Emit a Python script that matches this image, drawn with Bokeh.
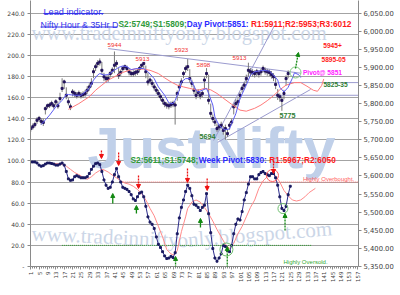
import math
from bokeh.plotting import figure
from bokeh.models import Range1d, LinearAxis, FixedTicker, NumeralTickFormatter, Arrow, NormalHead
from bokeh.core.properties import value
from bokeh.embed import file_html
from bokeh.resources import INLINE

# ---------------- data ----------------
x_ticks = list(range(1, 158, 4))
osc_ticks = list(range(0, 241, 20))
price_ticks = list(range(5350, 6051, 50))

bars = list(range(1, 125))
close = [5731, 5736, 5742, 5754, 5759, 5751, 5748, 5786, 5794, 5796, 5800, 5794, 5805, 5794, 5814, 5842,
         5860, 5823, 5805, 5791, 5832, 5828, 5823, 5828, 5823, 5825, 5828, 5837, 5846, 5856, 5888, 5902,
         5911, 5915, 5892, 5874, 5869, 5869, 5883, 5892, 5906, 5911, 5879, 5886, 5897, 5902, 5897, 5888,
         5883, 5883, 5886, 5888, 5897, 5906, 5911, 5888, 5860, 5865, 5856, 5846, 5837, 5828, 5819, 5809,
         5800, 5796, 5794, 5797, 5800, 5796, 5828, 5846, 5860, 5883, 5897, 5902, 5869, 5856, 5837, 5823,
         5831, 5823, 5828, 5865, 5883, 5809, 5773, 5759, 5749, 5731, 5736, 5740, 5726, 5731, 5717, 5740,
         5749, 5791, 5800, 5805, 5823, 5842, 5851, 5869, 5892, 5888, 5886, 5883, 5888, 5883, 5888, 5897,
         5890, 5888, 5886, 5880, 5874, 5853, 5823, 5819, 5809, 5828, 5869, 5883]
high = [5740, 5745, 5750, 5762, 5766, 5760, 5758, 5792, 5800, 5803, 5808, 5802, 5812, 5806, 5830, 5870,
        5866, 5845, 5815, 5800, 5840, 5836, 5832, 5836, 5832, 5834, 5838, 5848, 5856, 5870, 5898, 5910,
        5920, 5925, 5915, 5885, 5878, 5880, 5890, 5900, 5944, 5920, 5900, 5894, 5903, 5908, 5905, 5896,
        5890, 5892, 5893, 5896, 5904, 5910, 5913, 5905, 5885, 5872, 5866, 5855, 5846, 5838, 5828, 5818,
        5808, 5804, 5802, 5806, 5808, 5806, 5836, 5856, 5870, 5890, 5905, 5923, 5895, 5866, 5850, 5835,
        5840, 5832, 5836, 5875, 5898, 5880, 5800, 5770, 5760, 5745, 5744, 5750, 5738, 5742, 5730, 5748,
        5758, 5800, 5812, 5815, 5832, 5850, 5860, 5880, 5913, 5898, 5895, 5892, 5896, 5892, 5896, 5905,
        5900, 5896, 5894, 5890, 5884, 5872, 5840, 5828, 5820, 5838, 5878, 5892]
low = [5722, 5728, 5734, 5744, 5750, 5742, 5738, 5770, 5786, 5788, 5792, 5786, 5796, 5786, 5805, 5832,
       5840, 5812, 5795, 5782, 5820, 5818, 5814, 5818, 5814, 5816, 5819, 5827, 5836, 5845, 5870, 5890,
       5900, 5905, 5880, 5862, 5858, 5860, 5872, 5882, 5884, 5900, 5868, 5876, 5888, 5893, 5888, 5878,
       5874, 5874, 5877, 5879, 5886, 5896, 5898, 5870, 5850, 5855, 5846, 5836, 5827, 5818, 5808, 5798,
       5790, 5786, 5784, 5788, 5790, 5742, 5808, 5835, 5850, 5870, 5885, 5890, 5858, 5845, 5826, 5812,
       5820, 5812, 5818, 5840, 5870, 5798, 5762, 5748, 5738, 5722, 5726, 5730, 5714, 5700, 5708, 5728,
       5740, 5770, 5790, 5795, 5812, 5830, 5840, 5856, 5874, 5876, 5875, 5872, 5876, 5872, 5877, 5886,
       5880, 5877, 5876, 5869, 5862, 5840, 5810, 5805, 5780, 5812, 5850, 5870]

fast_x = [6, 10, 13, 16, 18, 19, 22, 25, 29, 31, 33, 34, 36, 38, 41, 43, 45, 47, 49, 52, 55, 57, 60, 62,
          65, 67, 69, 70, 72, 73, 75, 77, 78, 80, 81, 83, 85, 86, 88, 89, 91, 93, 94, 96, 97, 99, 101,
          104, 106, 108, 112, 115, 117, 119, 120, 122, 124, 126, 127, 129, 130]
fast_y = [5742, 5768, 5791, 5809, 5825, 5825, 5823, 5823, 5842, 5865, 5879, 5883, 5879, 5880, 5892, 5900,
          5904, 5902, 5894, 5897, 5897, 5888, 5869, 5846, 5823, 5802, 5800, 5809, 5837, 5860, 5869, 5869,
          5860, 5837, 5832, 5837, 5842, 5828, 5796, 5763, 5740, 5730, 5728, 5730, 5745, 5772, 5814, 5851,
          5879, 5888, 5892, 5890, 5879, 5865, 5845, 5832, 5845, 5870, 5885, 5880, 5872]
slow_x = [19, 24, 29, 32, 35, 38, 41, 45, 48, 51, 55, 58, 62, 65, 68, 71, 74, 77, 81, 84, 87, 90, 93, 97,
          100, 101, 104, 108, 111, 114, 117, 120, 123, 127, 130, 133, 136, 138, 140, 141]
slow_y = [5784, 5800, 5819, 5837, 5851, 5865, 5874, 5886, 5892, 5896, 5895, 5892, 5883, 5871, 5860, 5851,
          5846, 5842, 5837, 5842, 5838, 5828, 5815, 5798, 5786, 5782, 5779, 5787, 5796, 5808, 5822, 5838,
          5851, 5858, 5858, 5848, 5837, 5834, 5850, 5868]

osc_x = list(range(1, 126))
osc_y = [99, 99, 99, 98, 96, 95, 95.5, 97, 98, 98, 97.5, 97, 96, 96, 97, 98, 96, 90, 83, 81.6, 82, 85, 86,
         85, 84, 84, 84, 85, 88, 92, 95, 97.4, 98, 96.5, 90, 82, 77, 74, 75, 80, 87, 92.7, 85, 80, 75, 74,
         73, 71, 68, 64, 62.5, 66, 69.5, 70.5, 66, 57, 47, 42, 40, 36, 28, 21, 18, 14, 10, 7.5, 8, 9.6,
         8.5, 13, 31, 46, 56, 63, 71, 77, 74, 67, 59, 58, 56, 53, 56, 58, 69, 50, 32, 17, 8, 5, 8, 12, 20,
         19, 15, 14, 20, 31, 40, 45, 44, 52, 63, 70, 78, 85, 85, 83, 83, 87, 89, 90, 88, 87, 86, 88, 88,
         84, 77, 66, 55, 53, 57, 68, 76]
osc_ma_x = [9, 12, 16, 18, 20, 22, 24, 26, 28, 30, 32, 34, 35, 36, 38, 40, 42, 44, 46, 48, 50, 52, 54, 56,
            58, 60, 62, 64, 66, 68, 69, 70, 71, 72, 73, 74, 75, 76, 77, 78, 79, 80, 82, 84, 86, 88, 90, 92,
            94, 96, 98, 100, 102, 104, 106, 108, 110, 112, 114, 116, 117, 118, 120, 122, 124, 126, 128,
            130, 132, 134, 137]
osc_ma_y = [98, 97.5, 97, 95, 92, 89, 87, 84.5, 82.5, 85, 88.5, 91, 92, 91.5, 89.5, 86.5, 84, 81, 79, 78,
            76, 73, 69, 63, 55, 48, 38, 28, 16, 12, 11, 12, 15, 24, 33, 40, 47, 55, 58, 61, 62, 63, 61,
            56, 50, 43, 35, 28, 21, 17, 22, 31, 38, 47, 56, 63, 74, 81, 85, 87, 88, 86, 80, 72, 67, 63,
            62, 63, 66, 70, 74]

overbought = 80
oversold = 20

peak_labels = ["5944", "5913", "5923", "5898", "5913"]
peak_x = [41.0, 54.4, 73.0, 83.5, 100.75]
peak_p = [5963, 5922, 5947, 5908, 5925]
low_labels = ["5694", "5775"]
low_x = [85.5, 123.7]
low_p = [5709, 5767]

# ---------------- figure ----------------
p = figure(width=400, height=295, output_backend="svg", toolbar_location=None,
           x_range=Range1d(0.9, 157.6), y_range=Range1d(0, 251.9),
           min_border_left=30, min_border_right=42, min_border_top=0, min_border_bottom=29)
p.extra_y_ranges = {"price": Range1d(5350, 6084.8)}
p.outline_line_color = None
p.background_fill_color = "white"
p.border_fill_color = "white"
p.xgrid.grid_line_color = None
p.ygrid.ticker = FixedTicker(ticks=osc_ticks[1:])
p.ygrid.grid_line_color = "#a3a3a3"
p.ygrid.grid_line_width = 1

AX = "#8a8a8a"
xa = p.xaxis[0]
xa.ticker = FixedTicker(ticks=x_ticks, minor_ticks=list(range(1, 158)))
xa.major_label_orientation = math.pi / 2
xa.major_label_text_font = "DejaVu Sans"
xa.major_label_text_font_size = "5.5px"
xa.major_label_text_color = "#404040"
xa.axis_line_color = AX
xa.major_tick_line_color = AX
xa.minor_tick_line_color = AX
xa.major_tick_out = 3
xa.major_tick_in = 0
xa.minor_tick_out = 2
xa.minor_tick_in = 0
xa.major_label_standoff = 2

ya = p.yaxis[0]
ya.ticker = FixedTicker(ticks=osc_ticks)
ya.formatter = NumeralTickFormatter(format="0.0")
ya.major_label_overrides = {0: "-"}
ya.major_label_text_font = "DejaVu Sans"
ya.major_label_text_font_size = "6px"
ya.major_label_text_color = "#404040"
ya.axis_line_color = AX
ya.major_tick_line_color = AX
ya.minor_tick_line_color = None
ya.major_tick_out = 3
ya.major_tick_in = 0
ya.major_label_standoff = 3

ra = LinearAxis(y_range_name="price", ticker=FixedTicker(ticks=price_ticks),
                formatter=NumeralTickFormatter(format="0,0.00"))
ra.major_label_text_font = "DejaVu Sans"
ra.major_label_text_font_size = "6.8px"
ra.major_label_text_color = "#404040"
ra.axis_line_color = AX
ra.major_tick_line_color = AX
ra.minor_tick_line_color = None
ra.major_tick_out = 3
ra.major_tick_in = 0
ra.major_label_standoff = 2
p.add_layout(ra, "right")

# ---------------- watermarks ----------------
WM = "#c0d0e9"
p.text(x=[28.1], y=[112.7], text=["JustNifty"], text_font=value("Liberation Sans"),
       text_font_size=value("58px"), text_font_style="bold", text_color=WM,
       text_align="left", text_baseline="alphabetic")
p.text(x=[1.4], y=[220.7], text=["www.tradeinniftyonly.blogspot.com"], text_font=value("Liberation Serif"),
       text_font_size=value("20.5px"), text_color="#cbd6e7", text_align="left", text_baseline="alphabetic")
p.text(x=[1.4], y=[31.3], text=["www.tradeinnifty"], text_font=value("Liberation Serif"),
       text_font_size=value("21px"), text_color="#cbd6e7", text_align="left", text_baseline="alphabetic",
       angle=math.radians(-2.5))
p.text(x=[71.1], y=[24.6], text=["only.blogspot.com"], text_font=value("Liberation Serif"),
       text_font_size=value("21px"), text_color="#cbd6e7", text_align="left", text_baseline="alphabetic",
       angle=math.radians(4.5))

# ---------------- reference lines ----------------
LAV = "#9b9bcf"
p.segment(x0=[17], y0=[5858], x1=[157.6], y1=[5858], y_range_name="price", line_color=LAV, line_width=1)
p.segment(x0=[24], y0=[5823], x1=[157.6], y1=[5823], y_range_name="price", line_color=LAV, line_width=1)
p.segment(x0=[38], y0=[5952], x1=[130], y1=[5884], y_range_name="price", line_color=LAV, line_width=1)
p.segment(x0=[88.4], y0=[5698], x1=[117.5], y1=[6016], y_range_name="price", line_color=LAV, line_width=1)
p.segment(x0=[90.3], y0=[5693], x1=[134.7], y1=[5839], y_range_name="price", line_color=LAV, line_width=1)

p.segment(x0=[44], y0=[overbought], x1=[157.6], y1=[overbought], line_color="#ff7070",
          line_width=1, line_dash="1 1")
p.segment(x0=[16], y0=[oversold], x1=[135], y1=[oversold], line_color="#2e9e2e",
          line_width=1, line_dash="1 1")

# ---------------- price panel ----------------
p.segment(x0=bars, y0=low, x1=bars, y1=high, y_range_name="price", line_color="#7a7a7a", line_width=1)
p.scatter(bars, close, y_range_name="price", marker="square", size=2.0, color="#22135a")
p.line(slow_x, slow_y, y_range_name="price", line_color="#ff7a7a", line_width=1)
p.line(fast_x, fast_y, y_range_name="price", line_color="#5d5df2", line_width=1)

# ---------------- oscillator ----------------
p.line(osc_ma_x, osc_ma_y, line_color="#ff8a8a", line_width=1)
p.line(osc_x, osc_y, line_color="#2a2a8a", line_width=1)
p.scatter(osc_x, osc_y, marker="square", size=1.9, color="#1a1a60")

# circles
p.scatter([94.5, 121.5], [16.1, 54.9], marker="circle", size=[13, 10], fill_color=None,
          line_color="#6fbf6f", line_width=1)
p.scatter([116.5], [86.2], marker="circle", size=12, fill_color=None, line_color="#ff6060", line_width=1)
p.scatter([127.5], [5886], y_range_name="price", marker="circle", size=11, fill_color=None,
          line_color="#7fc97f", line_width=1)

# arrows
def arrow(x0, y0, x1, y1, color, dash):
    p.add_layout(Arrow(end=NormalHead(size=4, fill_color=color, line_color=color),
                       x_start=x0, y_start=y0, x_end=x1, y_end=y1,
                       line_color=color, line_width=1.3, line_dash=dash))

RED = "#ee1111"
GRN = "#118811"
for cx, yt, yb in [(34.8, 109.9, 102.3), (43.0, 108.0, 95.7), (52.5, 86.2, 73.9),
                   (75.9, 92.8, 79.6), (85.3, 83.3, 72.0), (117.0, 100.4, 88.1)]:
    arrow(cx, yt, cx, yb, RED, "2 1")
for cx, yb, yt in [(40.2, 59.7, 69.1), (51.5, 50.2, 57.8), (82.1, 36.9, 45.5)]:
    arrow(cx, yb, cx, yt, GRN, "solid")
for cx, yb, yt in [(70.2, -6.6, 9.5), (94.9, -6.6, 18.9), (122.5, 34.1, 50.2)]:
    arrow(cx, yb, cx, yt, GRN, "2 1")
arrow(127.5, 187.5, 128.9, 202.7, GRN, "2 1")

# ---------------- texts ----------------
F = value("Liberation Sans")
p.text(x=peak_x, y=peak_p, text=peak_labels, y_range_name="price", text_font=F,
       text_font_size=value("6.2px"), text_color="#f03030", text_align="center", text_baseline="middle")
p.text(x=low_x, y=low_p, text=low_labels, y_range_name="price", text_font=F,
       text_font_size=value("7.2px"), text_font_style="bold", text_color="#2e7d32",
       text_align="center", text_baseline="middle")
p.text(x=[145.2, 145.7], y=[5960.5, 5921.8], text=["5945+", "5895-05"], y_range_name="price",
       text_font=F, text_font_size=value("6.6px"), text_font_style="bold", text_color="#ff1a1a",
       text_align="center", text_baseline="middle")
p.text(x=[140.4], y=[5885.9], text=["Pivot@ 5851"], y_range_name="price", text_font=F,
       text_font_size=value("6.6px"), text_font_style="bold", text_color="#ff22ff",
       text_align="center", text_baseline="middle")
p.text(x=[146.6], y=[5852.8], text=["5825-35"], y_range_name="price", text_font=F,
       text_font_size=value("6.6px"), text_font_style="bold", text_color="#2e7d32",
       text_align="center", text_baseline="middle")
p.text(x=[143.3], y=[83.3], text=["Highly Overbought."], text_font=F, text_font_size=value("6px"),
       text_color="#ff5a5a", text_align="center", text_baseline="middle")
p.text(x=[132.3], y=[3.8], text=["Highly Oversold."], text_font=F, text_font_size=value("6px"),
       text_color="#33aa33", text_align="center", text_baseline="middle")

# header links
BLUE = "#3434e8"
p.text(x=[7.1], y=[241.0], text=["Lead indicator."], text_font=F, text_font_size=value("9.2px"),
       text_color=BLUE, text_align="left", text_baseline="alphabetic")
p.text(x=[5.7], y=[228.7], text=["Nifty Hour & 35Hr D"], text_font=F, text_font_size=value("8.8px"),
       text_color=BLUE, text_align="left", text_baseline="alphabetic")
p.segment(x0=[7.1, 5.7], y0=[239.6, 226.8], x1=[35.8, 42.5], y1=[239.6, 226.8],
          line_color=BLUE, line_width=1)

# coloured pivot lines (segments placed one after another)
AB = {'0': .556, '1': .556, '2': .556, '3': .556, '4': .556, '5': .556, '6': .556, '7': .556,
      '8': .556, '9': .556, ':': .333, ';': .333, 'S': .667, 'D': .722, 'a': .556, 'y': .556,
      ' ': .278, 'P': .667, 'i': .278, 'v': .556, 'o': .611, 't': .333, 'R': .722, 'W': .944,
      'e': .556, 'k': .556}
PXC = 2.0932
FS = 8.3

def pivot_line(x_start, y, parts):
    x = x_start
    for s, c in parts:
        p.text(x=[x], y=[y], text=[s], text_font=F, text_font_size=value(f"{FS}px"),
               text_font_style="bold", text_color=c, text_align="left", text_baseline="alphabetic")
        x += sum(AB.get(ch, .556) for ch in s) * FS / PXC

G2 = "#2f9a3a"
B2 = "#2b2bff"
R2 = "#ff1a1a"
pivot_line(42.94, 229.2, [("S2:5749;S1:5809;", G2), ("Day Pivot:5851: ", B2),
                          ("R1:5911;R2:5953;R3:6012", R2)])
pivot_line(48.67, 101.3, [("S2:5611;S1:5748;", G2), ("Week Pivot:5830: ", B2),
                          ("R1:5967;R2:6050", R2)])

open("out.html", "w").write(file_html(p, INLINE))
